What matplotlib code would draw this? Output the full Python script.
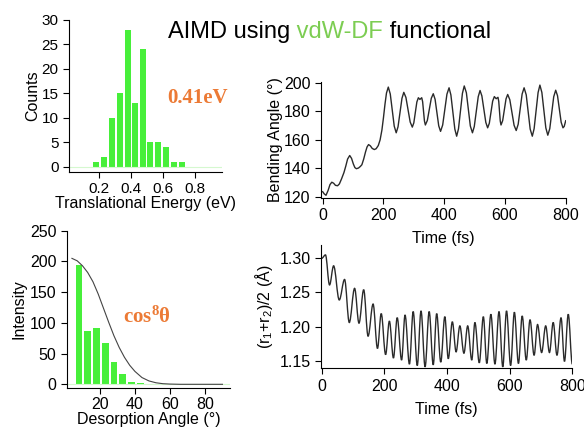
import matplotlib
import matplotlib.pyplot as plt
from matplotlib.patches import PathPatch
from matplotlib.path import Path

matplotlib.use("Agg")

plt.rcParams["font.family"] = ["Liberation Sans", "DejaVu Sans"]
plt.rcParams["mathtext.fontset"] = "custom"
plt.rcParams["mathtext.rm"] = "Liberation Sans"
plt.rcParams["mathtext.it"] = "Liberation Sans:italic"
plt.rcParams["mathtext.bf"] = "Liberation Serif:bold"

# --- data ---
# translational energy histogram (bin centre in eV, counts)
energy_bins = [0.18, 0.23, 0.28, 0.33, 0.38, 0.425, 0.475, 0.52, 0.57, 0.62, 0.67, 0.72]
energy_counts = [1, 2, 10, 15, 28, 13, 24, 5, 5, 4, 1, 1]

# desorption angle histogram (bin centre in deg, intensity)
angle_bins = [8, 13, 18, 23, 28, 33, 38, 43, 48]
angle_counts = [195, 87, 92, 67, 36, 16, 4, 2, 1]

# cos^8 curve
cos8_angle = [4, 7, 10, 13, 16, 19, 22, 25, 28, 31, 34, 37, 40, 44, 48, 52, 56, 60, 66, 72, 80, 90]
cos8_value = [205, 201, 193, 182, 167, 147, 124, 101, 79, 60, 44, 31, 21, 11, 5.5, 2.5, 1, 0.4, 0, 0, 0, 0]

# bending angle vs time (fs, deg)
bending = [
    (0, 123.5), (5, 122), (11, 121), (18, 124.5), (24, 128.5), (30, 130.2), (36, 129.5), (42, 128),
    (49, 127.7), (55, 129), (62, 132.5), (70, 137), (76, 141.5), (82, 146.5), (89, 149), (95, 147),
    (101, 143), (106, 140.5), (111, 139.7), (118, 140.2), (124, 141.3), (129, 142.5), (135, 146.5),
    (141, 151.5), (146, 155), (151, 156.7), (157, 155.8), (163, 154), (170, 153.2), (176, 153.8),
    (183, 156), (189, 160), (195, 167), (200, 175.5), (205, 185), (210, 193), (216, 197.2),
    (222.5, 192.3), (229, 181), (235.5, 169.7), (242, 165),
    (248, 169.2), (254.5, 179.3), (261, 189.3), (267, 193.5),
    (274, 189.9), (281, 181.3), (288, 172.6), (295, 169),
    (300, 172), (305, 179.4), (310, 186.7), (315, 189.7), (320, 188.5), (326, 189.7),
    (329, 186.9), (332, 180.1), (335, 173.3), (338, 170.5),
    (344.5, 173.7), (351, 181.5), (357.5, 189.3), (364, 192.5),
    (370, 188.6), (376, 179.3), (382, 169.9), (388, 166),
    (395, 170.5), (402, 181.4), (409, 192.2), (416, 196.7),
    (422, 191.7), (428.5, 179.7), (435, 167.6), (441, 162.6),
    (447, 167.8), (453.5, 180.3), (460, 192.8), (466, 198),
    (473, 193.2), (479.5, 181.5), (486, 169.8), (493, 165),
    (499, 169.4), (505.5, 179.9), (512, 190.4), (518, 194.8),
    (524, 191), (530.5, 181.7), (537, 172.3), (543, 168.5),
    (548.5, 171.7), (554, 179.5), (559.5, 187.3), (565, 190.5), (571, 189), (577, 190),
    (579.5, 187.2), (582, 180.3), (584.5, 173.3), (587, 170.5),
    (592.5, 173.6), (598, 181.3), (603.5, 188.9), (609, 192),
    (616, 188.3), (623, 179.3), (630, 170.3), (637, 166.6),
    (643.5, 171), (650, 181.7), (656.5, 192.3), (663, 196.7),
    (670, 191.7), (676.5, 179.7), (683, 167.6), (690, 162.6),
    (696, 167.9), (702.5, 180.6), (709, 193.3), (715, 198.6),
    (721.5, 193.4), (728, 181), (734.5, 168.5), (741, 163.3),
    (747.5, 167.9), (754, 179.2), (760.5, 190.4), (767, 195),
    (773, 191.1), (779, 181.8), (785, 172.4), (791, 168.5),
    (795, 169.5), (800, 173.5),
]

# (r1+r2)/2 vs time (fs, Angstrom) - turning points of the oscillation
bond = [
    (0, 1.300), (12, 1.305), (25, 1.261), (38, 1.289), (56, 1.239), (73, 1.269), (88, 1.206),
    (105, 1.256), (119, 1.205), (134, 1.254), (148, 1.186), (164, 1.233), (178, 1.168),
    (190, 1.219), (204, 1.159), (216, 1.208), (229, 1.154), (241, 1.213), (255, 1.151),
    (266, 1.217), (280, 1.145), (292, 1.222), (305, 1.143), (317, 1.223), (330, 1.141),
    (343, 1.222), (356, 1.144), (367, 1.219), (380, 1.148), (393, 1.2145), (404, 1.153),
    (417, 1.207), (429, 1.163), (441, 1.201), (454, 1.161), (466, 1.201), (479, 1.151),
    (489, 1.206), (503, 1.147), (516, 1.2145), (527, 1.146), (540, 1.218), (553, 1.145),
    (566, 1.222), (578, 1.141), (590, 1.223), (603, 1.143), (615, 1.221), (628, 1.146),
    (640, 1.2155), (653, 1.151), (665, 1.210), (678, 1.158), (689, 1.203), (702, 1.162),
    (715, 1.201), (727, 1.162), (739, 1.206), (751, 1.158), (764, 1.213), (775, 1.149),
    (787, 1.218), (800, 1.145),
]

green = "#47ef3a"
orange = "#ec7a35"
line_col = "#2a2a2a"
TICK_FS = 11.5
LABEL_FS = 11.5


def style(ax):
    ax.patch.set_visible(False)
    for s in ["top", "right"]:
        ax.spines[s].set_visible(False)
    for s in ["left", "bottom"]:
        ax.spines[s].set_linewidth(0.8)
    ax.tick_params(direction="out", length=4, width=0.8, labelsize=TICK_FS, pad=3.5)


def smooth_path(points):
    # cubic segments between turning points, flat at each turning point
    verts = [points[0]]
    codes = [Path.MOVETO]
    for (t1, v1), (t2, v2) in zip(points[:-1], points[1:]):
        dt = t2 - t1
        verts += [(t1 + 0.36 * dt, v1), (t2 - 0.36 * dt, v2), (t2, v2)]
        codes += [Path.CURVE4] * 3
    return Path(verts, codes)


fig = plt.figure(figsize=(5.84, 4.29), dpi=100)

# top left: energy histogram
ax1 = fig.add_axes([0.1182, 0.5998, 0.2615, 0.3536])
ax1.axhline(0, color="#d5f8cf", lw=0.8)
ax1.bar(energy_bins, energy_counts, width=0.039, color=green)
ax1.set_xlim(0.01, 0.97)
ax1.set_ylim(-1, 30)
ax1.set_xticks([0.2, 0.4, 0.6, 0.8])
ax1.set_yticks(range(0, 31, 5))
style(ax1)
ax1.tick_params(labelsize=11)
ax1.set_xlabel("Translational Energy (eV)", fontsize=LABEL_FS, labelpad=0)
ax1.set_ylabel("Counts", fontsize=LABEL_FS, labelpad=1)

# bottom left: angular distribution
ax2 = fig.add_axes([0.1142, 0.0963, 0.2796, 0.3659])
ax2.axhline(0, color="#d5f8cf", lw=0.8)
ax2.bar(angle_bins, angle_counts, width=3.85, color=green)
ax2.plot(cos8_angle, cos8_value, color="#444444", lw=0.8)
ax2.set_xlim(1, 94.3)
ax2.set_ylim(-5.5, 250)
ax2.set_xticks([20, 40, 60, 80])
ax2.set_yticks(range(0, 251, 50))
style(ax2)
ax2.tick_params(axis="x", pad=2.5)
ax2.set_xlabel("Desorption Angle (°)", fontsize=LABEL_FS, labelpad=0)
ax2.set_ylabel("Intensity", fontsize=LABEL_FS, labelpad=2.5)

# top right: bending angle
t_b, ang_b = zip(*bending)
ax3 = fig.add_axes([0.5491, 0.5392, 0.4196, 0.2704])
ax3.plot(t_b, ang_b, color=line_col, lw=1.0)
ax3.set_xlim(-6.6, 800)
ax3.set_ylim(119.3, 201)
ax3.set_xticks(range(0, 801, 200))
ax3.set_yticks(range(120, 201, 20))
style(ax3)
ax3.set_xlabel("Time (fs)", fontsize=LABEL_FS, labelpad=6)
ax3.set_ylabel("Bending Angle (°)", fontsize=LABEL_FS, labelpad=0.5)

# bottom right: average bond length
ax4 = fig.add_axes([0.5497, 0.1415, 0.4303, 0.2874])
ax4.add_patch(PathPatch(smooth_path(bond), fill=False, edgecolor=line_col, lw=1.0))
ax4.set_xlim(-2.2, 800)
ax4.set_ylim(1.1389, 1.3195)
ax4.set_xticks(range(0, 801, 200))
ax4.set_yticks([1.15, 1.20, 1.25, 1.30])
ax4.set_yticklabels(["1.15", "1.20", "1.25", "1.30"])
style(ax4)
ax4.set_xlabel("Time (fs)", fontsize=LABEL_FS, labelpad=6)
ax4.set_ylabel(r"(r$_\mathregular{1}$+r$_\mathregular{2}$)/2 (Å)", fontsize=LABEL_FS, labelpad=3)

# annotations
fig.text(0.339, 0.7716, "0.41eV", color=orange, fontsize=15, fontweight="bold",
         family=["Liberation Serif", "DejaVu Serif"], ha="center", va="center")
fig.text(0.2517, 0.2634, r"$\mathbf{cos^{8}θ}$", color=orange, fontsize=15,
         ha="center", va="center")

# title with coloured middle word
title_y = 0.9114
t1 = fig.text(0.2877, title_y, "AIMD using", fontsize=17, va="baseline", ha="left")
t2 = fig.text(0, title_y, " vdW-DF", fontsize=17, color="#7ccd52", va="baseline", ha="left")
t3 = fig.text(0, title_y, " functional", fontsize=17, va="baseline", ha="left")
fig.canvas.draw()
r = fig.canvas.get_renderer()
bb1 = t1.get_window_extent(r)
t2.set_x(bb1.x1 / fig.bbox.width)
bb2 = t2.get_window_extent(r)
t3.set_x(bb2.x1 / fig.bbox.width)

fig.savefig("out.png", dpi=100)
